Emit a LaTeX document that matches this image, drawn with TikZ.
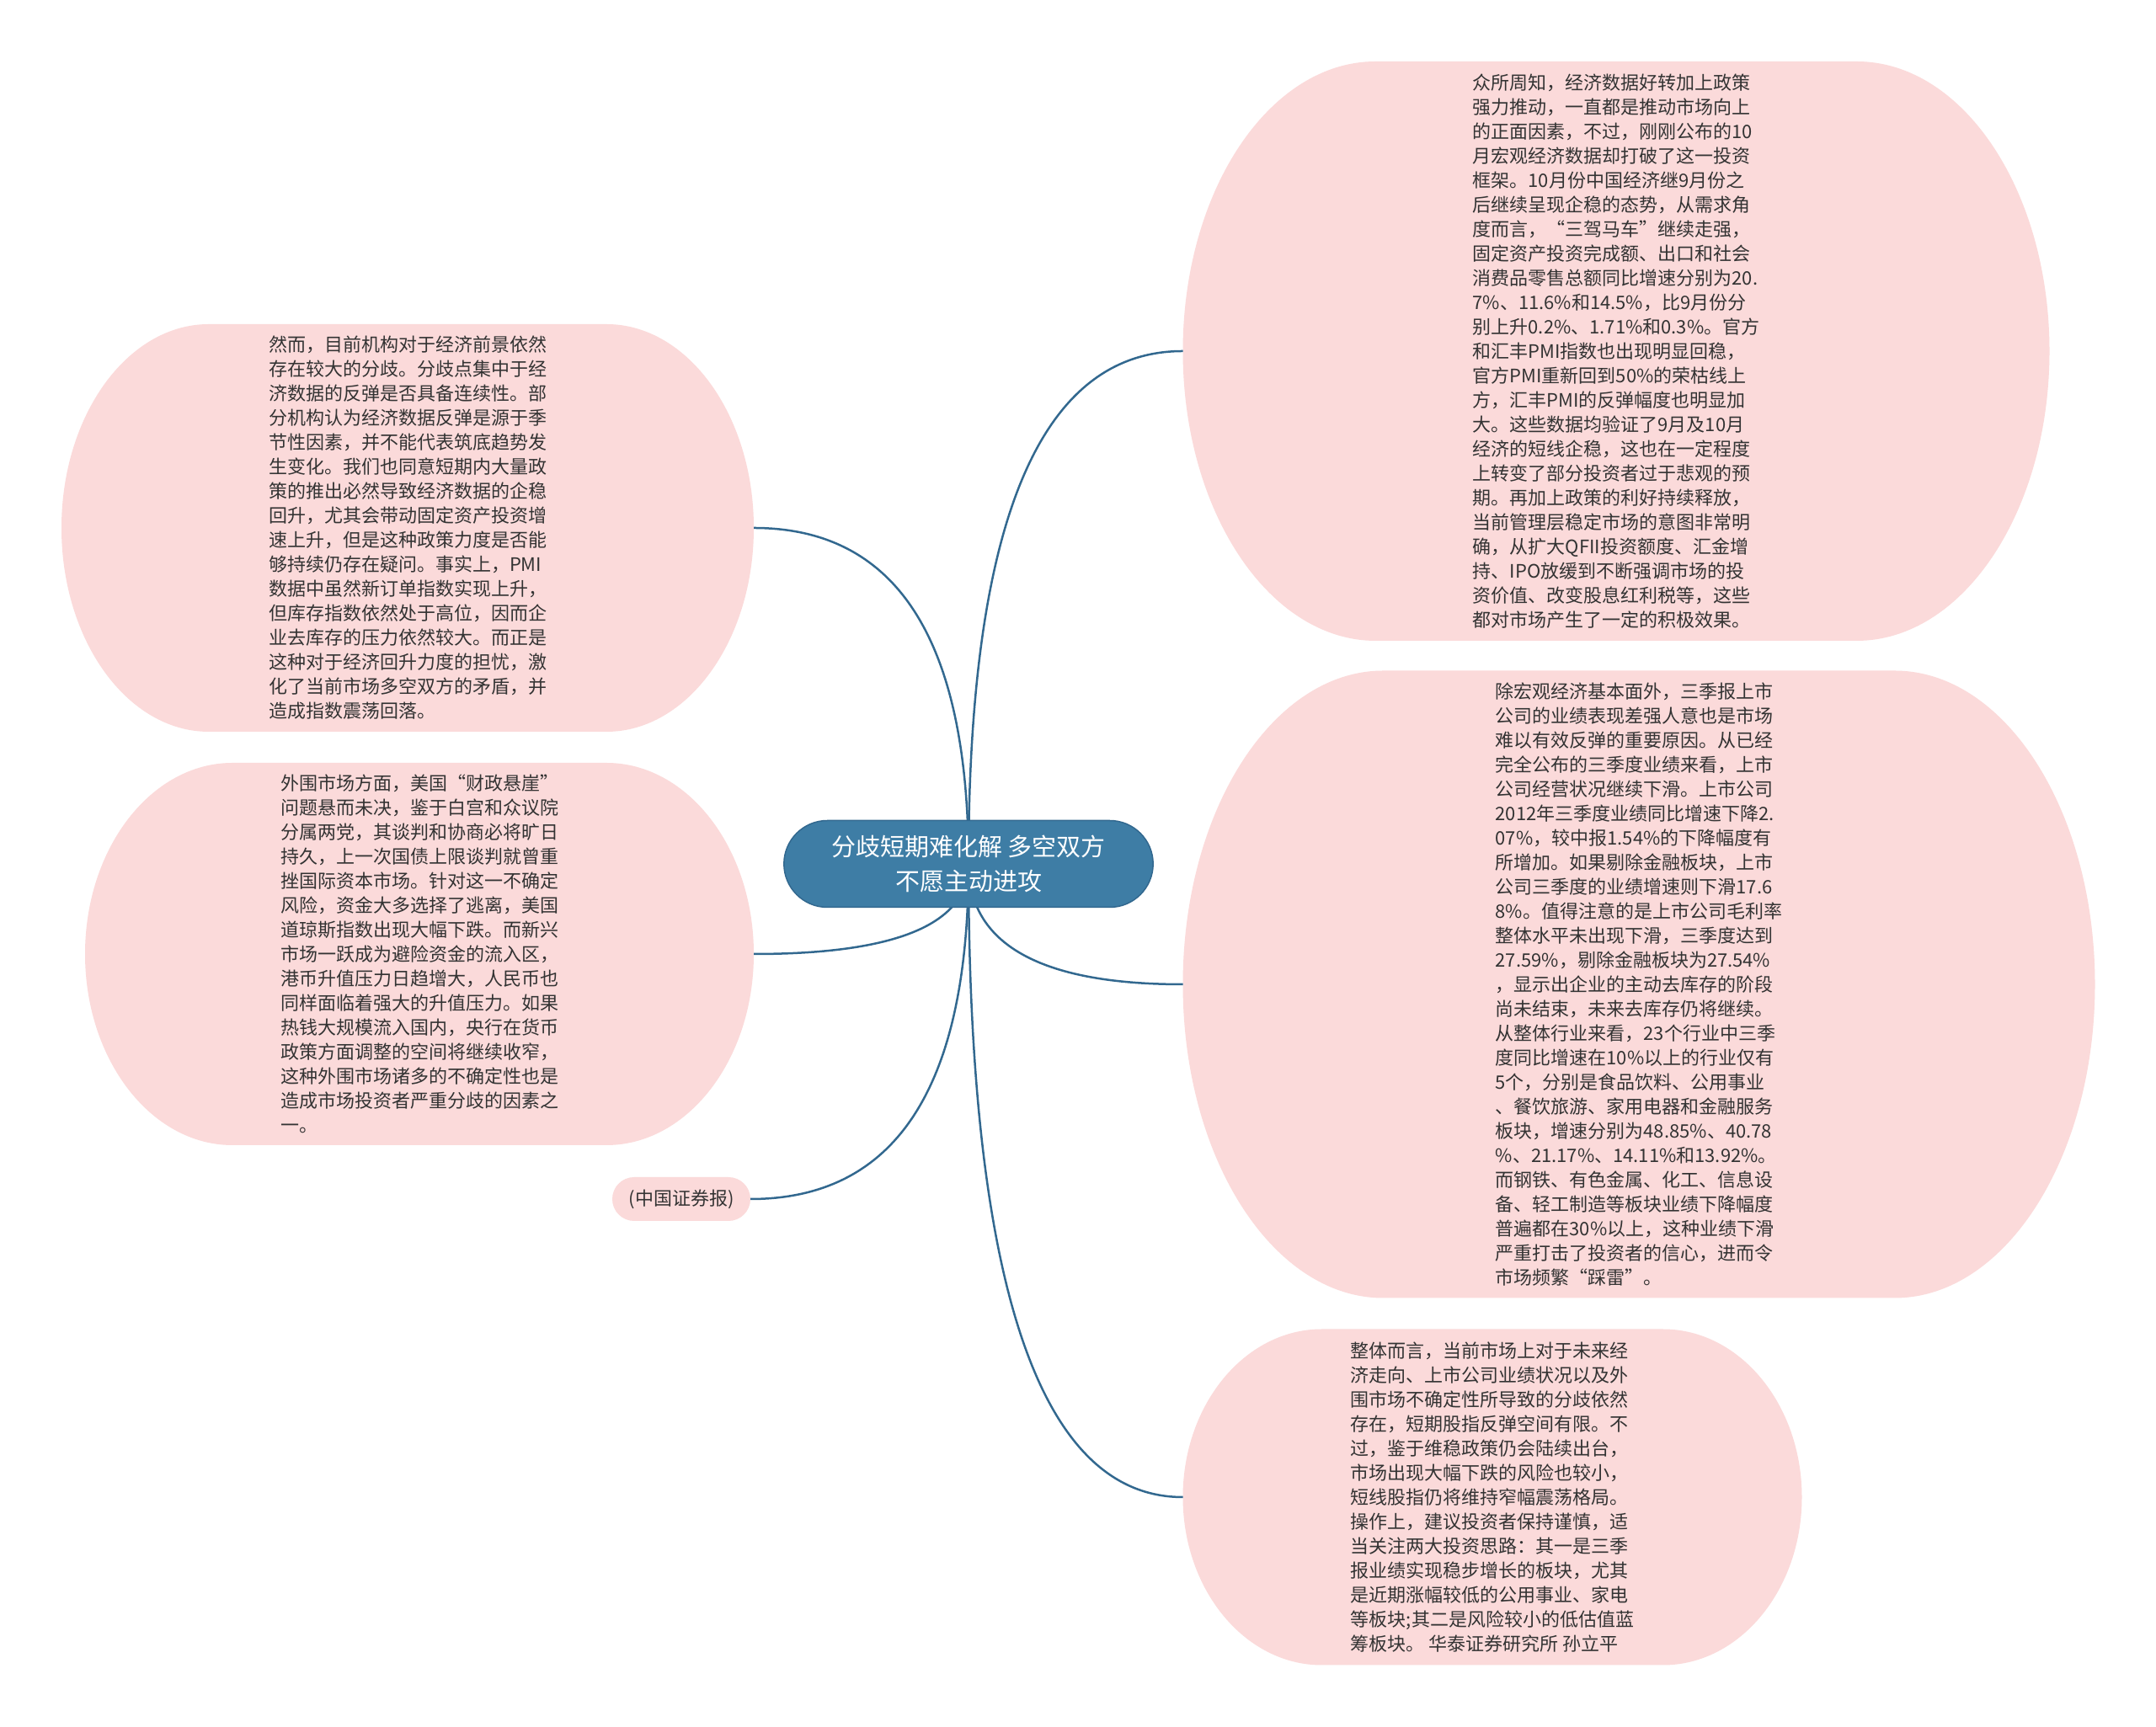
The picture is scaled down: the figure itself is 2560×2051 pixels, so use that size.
\documentclass[tikz,border=0pt]{standalone}
\usepackage{fontspec}
\newfontfamily\cjk{Noto Sans CJK SC}
\usetikzlibrary{calc,shapes.misc}
\pgfdeclarelayer{bg}
\pgfsetlayers{bg,main}
\definecolor{bubblepink}{RGB}{251,218,218}
\definecolor{linkblue}{RGB}{50,104,143}
\definecolor{rootblue}{RGB}{62,125,165}
\definecolor{textgray}{RGB}{51,51,51}
\newcommand\bubblefill[2]{%
  \fill[bubblepink] let \p1=(#1.north west), \p2=(#1.south east), \n1={(\y1-\y2)/2} in
    (\x1+#2pt,\y1) -- (\x2-#2pt,\y1)
    arc[start angle=90,end angle=-90,x radius=#2pt,y radius=\n1]
    -- (\x1+#2pt,\y2)
    arc[start angle=270,end angle=90,x radius=#2pt,y radius=\n1] -- cycle;}
\newcommand\linkto[2]{%
  \draw[link] (#1.center) .. controls ($(#1.center)!2/3!(#1.center |- #2)$)
    and ($(#2)!2/3!(#1.center |- #2)$) .. (#2);}
\begin{document}
\begin{tikzpicture}[x=1pt,y=1pt,
  bubble/.style={rectangle, outer sep=0pt, inner sep=0pt, align=left,
    text=textgray, font=\cjk\fontsize{22}{29}\selectfont},
  root/.style={rounded rectangle, fill=rootblue, draw=linkblue, line width=1.5pt,
    outer sep=0pt, align=center, text=white,
    font=\cjk\fontsize{29}{41}\selectfont, minimum width=445pt, minimum height=103pt},
  tag/.style={rounded rectangle, fill=bubblepink, outer sep=0pt, inner sep=4pt,
    text=textgray, font=\cjk\fontsize{22}{29}\selectfont,
    minimum width=172pt, minimum height=52pt},
  link/.style={draw=linkblue, line width=2.5pt}]
\begin{pgfonlayer}{bg}
\fill[white] (0,0) rectangle (2560,2051);
\end{pgfonlayer}
\useasboundingbox (0,0) rectangle (2560,2051);

\node[bubble, minimum width=1029pt, minimum height=688pt] (tr) at (1919,1634) {%
众所周知，经济数据好转加上政策\\
强力推动，一直都是推动市场向上\\
的正面因素，不过，刚刚公布的10\\
月宏观经济数据却打破了这一投资\\
框架。10月份中国经济继9月份之\\
后继续呈现企稳的态势，从需求角\\
度而言，“三驾马车”继续走强，\\
固定资产投资完成额、出口和社会\\
消费品零售总额同比增速分别为20.\\
7\%、11.6\%和14.5\%，比9月份分\\
别上升0.2\%、1.71\%和0.3\%。官方\\
和汇丰PMI指数也出现明显回稳，\\
官方PMI重新回到50\%的荣枯线上\\
方，汇丰PMI的反弹幅度也明显加\\
大。这些数据均验证了9月及10月\\
经济的短线企稳，这也在一定程度\\
上转变了部分投资者过于悲观的预\\
期。再加上政策的利好持续释放，\\
当前管理层稳定市场的意图非常明\\
确，从扩大QFII投资额度、汇金增\\
持、IPO放缓到不断强调市场的投\\
资价值、改变股息红利税等，这些\\
都对市场产生了一定的积极效果。};

\node[bubble, minimum width=1083pt, minimum height=745pt] (rm) at (1946,882) {%
除宏观经济基本面外，三季报上市\\
公司的业绩表现差强人意也是市场\\
难以有效反弹的重要原因。从已经\\
完全公布的三季度业绩来看，上市\\
公司经营状况继续下滑。上市公司\\
2012年三季度业绩同比增速下降2.\\
07\%，较中报1.54\%的下降幅度有\\
所增加。如果剔除金融板块，上市\\
公司三季度的业绩增速则下滑17.6\\
8\%。值得注意的是上市公司毛利率\\
整体水平未出现下滑，三季度达到\\
27.59\%，剔除金融板块为27.54\%\\
，显示出企业的主动去库存的阶段\\
尚未结束，未来去库存仍将继续。\\
从整体行业来看，23个行业中三季\\
度同比增速在10\%以上的行业仅有\\
5个，分别是食品饮料、公用事业\\
、餐饮旅游、家用电器和金融服务\\
板块，增速分别为48.85\%、40.78\\
\%、21.17\%、14.11\%和13.92\%。\\
而钢铁、有色金属、化工、信息设\\
备、轻工制造等板块业绩下降幅度\\
普遍都在30\%以上，这种业绩下滑\\
严重打击了投资者的信心，进而令\\
市场频繁“踩雷”。};

\node[bubble, minimum width=735pt, minimum height=399pt] (br) at (1772,273) {%
整体而言，当前市场上对于未来经\\
济走向、上市公司业绩状况以及外\\
围市场不确定性所导致的分歧依然\\
存在，短期股指反弹空间有限。不\\
过，鉴于维稳政策仍会陆续出台，\\
市场出现大幅下跌的风险也较小，\\
短线股指仍将维持窄幅震荡格局。\\
操作上，建议投资者保持谨慎，适\\
当关注两大投资思路：其一是三季\\
报业绩实现稳步增长的板块，尤其\\
是近期涨幅较低的公用事业、家电\\
等板块;其二是风险较小的低估值蓝\\
筹板块。 华泰证券研究所 孙立平};

\node[bubble, minimum width=822pt, minimum height=484pt] (tl) at (484,1424) {%
然而，目前机构对于经济前景依然\\
存在较大的分歧。分歧点集中于经\\
济数据的反弹是否具备连续性。部\\
分机构认为经济数据反弹是源于季\\
节性因素，并不能代表筑底趋势发\\
生变化。我们也同意短期内大量政\\
策的推出必然导致经济数据的企稳\\
回升，尤其会带动固定资产投资增\\
速上升，但是这种政策力度是否能\\
够持续仍存在疑问。事实上，PMI\\
数据中虽然新订单指数实现上升，\\
但库存指数依然处于高位，因而企\\
业去库存的压力依然较大。而正是\\
这种对于经济回升力度的担忧，激\\
化了当前市场多空双方的矛盾，并\\
造成指数震荡回落。};

\node[bubble, minimum width=794pt, minimum height=454pt] (lm) at (498,918) {%
外围市场方面，美国“财政悬崖”\\
问题悬而未决，鉴于白宫和众议院\\
分属两党，其谈判和协商必将旷日\\
持久，上一次国债上限谈判就曾重\\
挫国际资本市场。针对这一不确定\\
风险，资金大多选择了逃离，美国\\
道琼斯指数出现大幅下跌。而新兴\\
市场一跃成为避险资金的流入区，\\
港币升值压力日趋增大，人民币也\\
同样面临着强大的升值压力。如果\\
热钱大规模流入国内，央行在货币\\
政策方面调整的空间将继续收窄，\\
这种外围市场诸多的不确定性也是\\
造成市场投资者严重分歧的因素之\\
一。};

\node[tag] (sm) at (809,627) {(中国证券报)};

\begin{pgfonlayer}{bg}
\bubblefill{tr}{229}
\bubblefill{rm}{238}
\bubblefill{br}{165}
\bubblefill{tl}{175}
\bubblefill{lm}{175}
\end{pgfonlayer}

\node[root] (c) at (1150,1025) {分歧短期难化解 多空双方\\不愿主动进攻};

\begin{pgfonlayer}{bg}
\linkto{c}{tr.west}
\linkto{c}{rm.west}
\linkto{c}{br.west}
\linkto{c}{tl.east}
\linkto{c}{lm.east}
\linkto{c}{sm.east}
\end{pgfonlayer}
\end{tikzpicture}
\end{document}
